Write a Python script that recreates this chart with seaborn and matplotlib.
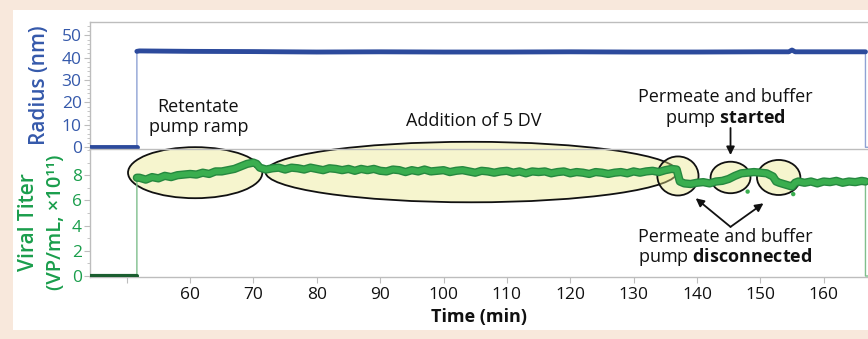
import numpy as np
import pandas as pd
import matplotlib
matplotlib.use("Agg")
import matplotlib.pyplot as plt
from matplotlib.patches import Ellipse, Rectangle
import seaborn as sns

# ---------------- data ----------------
radius_t = [44.0, 51.6, 51.6, 52, 60, 70, 80, 90, 100, 110, 120, 130, 140, 150,
            154.5, 155, 155.5, 160, 166.6, 166.6, 167.5]
radius_v = [0, 0, 42.8, 43.0, 42.8, 42.7, 42.5, 42.6, 42.5, 42.5, 42.6, 42.5,
            42.5, 42.6, 42.6, 43.4, 42.6, 42.6, 42.6, 0, 0]

titer_t = [44.0, 51.6, 51.6, 52, 53, 54, 55, 56, 57, 58, 59, 60, 61, 62, 63, 64, 65,
           66, 67, 68, 69, 70, 70.5, 71, 72, 73, 74, 75, 76, 77, 78, 79, 80, 81, 82,
           83, 84, 85, 86, 87, 88, 89, 90, 91, 92, 93, 94, 95, 96, 97, 98, 99, 100,
           101, 102, 103, 104, 105, 106, 107, 108, 109, 110, 111, 112, 113, 114,
           115, 116, 117, 118, 119, 120, 121, 122, 123, 124, 125, 126, 127, 128,
           129, 130, 131, 132, 133, 134, 135, 136, 136.8, 137.3, 138, 139, 140, 141,
           142, 143, 144, 145, 146, 147, 148, 149, 150, 151, 152, 152.5, 153, 154,
           155, 155.5, 156, 157, 158, 159, 160, 161, 162, 163, 164, 165, 166, 166.6,
           166.6, 167.5]
titer_v = [0, 0, 7.8, 7.8, 7.65, 7.85, 7.75, 7.95, 7.85, 8.0, 8.05, 8.1, 8.05, 8.2, 8.1,
           8.3, 8.3, 8.4, 8.5, 8.7, 8.9, 9.0, 8.9, 8.6, 8.45, 8.55, 8.6, 8.45, 8.6,
           8.55, 8.45, 8.6, 8.5, 8.4, 8.55, 8.5, 8.4, 8.5, 8.35, 8.5, 8.4, 8.5, 8.35,
           8.3, 8.45, 8.4, 8.25, 8.4, 8.3, 8.45, 8.3, 8.35, 8.4, 8.25, 8.35, 8.4, 8.3,
           8.2, 8.35, 8.3, 8.2, 8.3, 8.35, 8.2, 8.3, 8.15, 8.3, 8.25, 8.3, 8.15,
           8.25, 8.3, 8.15, 8.25, 8.2, 8.1, 8.25, 8.2, 8.1, 8.2, 8.25, 8.15, 8.3,
           8.2, 8.3, 8.35, 8.25, 8.4, 8.5, 8.45, 7.5, 7.35, 7.3, 7.4, 7.45, 7.35, 7.5,
           7.55, 7.7, 7.95, 8.15, 8.2, 8.25, 8.2, 8.15, 7.9, 7.5, 7.4, 7.25, 7.1,
           7.4, 7.5, 7.4, 7.5, 7.35, 7.5, 7.45, 7.55, 7.4, 7.5, 7.45, 7.55, 7.5, 0, 0]

outlier_t = [148.0, 155.2]
outlier_v = [6.7, 6.5]

x_ticks = [50, 60, 70, 80, 90, 100, 110, 120, 130, 140, 150, 160]
x_labels = ["", "60", "70", "80", "90", "100", "110", "120", "130", "140", "150", "160"]
radius_ticks = [0, 10, 20, 30, 40, 50]
titer_ticks = [0, 2, 4, 6, 8]

# ---------------- style ----------------
sns.set_theme(style="white")
plt.rcParams["font.family"] = ["Open Sans", "DejaVu Sans"]
plt.rcParams["mathtext.fontset"] = "custom"
plt.rcParams["mathtext.rm"] = "Open Sans"
plt.rcParams["mathtext.bf"] = "Open Sans:bold"
plt.rcParams["mathtext.it"] = "Open Sans:italic"

BLUE = "#2c4a9c"
BLUE_TXT = "#3559ab"
GREEN = "#3aae4f"
GREEN_D = "#26883f"
GREEN_TXT = "#1a9e4c"
GREY = "#bdbdbd"

W, H = 868, 339
fig = plt.figure(figsize=(W / 100, H / 100), dpi=100)
fig.patch.set_facecolor("#f8e8dc")
fig.add_artist(Rectangle((13 / W, 1 - 330 / H), 1, (330 - 10) / H,
                         transform=fig.transFigure, facecolor="white",
                         edgecolor="none", zorder=0))

L = 90 / W
AW = 1 - L
ax_top = fig.add_axes([L, 1 - 148.5 / H, AW, (148.5 - 22) / H])
ax_bot = fig.add_axes([L, 1 - 277 / H, AW, (277 - 149) / H])
for ax in (ax_top, ax_bot):
    ax.set_facecolor("none")
    ax.set_xlim(44.2, 167.0)

rad = pd.DataFrame({"t": radius_t, "v": radius_v})
tit = pd.DataFrame({"t": titer_t, "v": titer_v})

# ---- top: radius ----
sns.lineplot(data=rad, x="t", y="v", ax=ax_top, sort=False, estimator=None,
             color="#8fa2d4", linewidth=1.0, zorder=2)
rad_low = rad[(rad.t <= 51.6) & (rad.v == 0)]
rad_hi = rad[rad.v > 1]
sns.lineplot(data=rad_low, x="t", y="v", ax=ax_top, sort=False, estimator=None,
             color=BLUE, linewidth=3.5, zorder=3)
sns.lineplot(data=rad_hi, x="t", y="v", ax=ax_top, sort=False, estimator=None,
             color=BLUE, linewidth=3.5, zorder=3)
ax_top.set_ylim(-0.54, 55.9)
ax_top.set_yticks(radius_ticks)
ax_top.set_yticks(np.arange(0, 55, 2), minor=True)
ax_top.set_xticks([])
ax_top.set_xlabel("")
ax_top.set_ylabel("")
ax_top.tick_params(axis="y", which="major", colors=GREY, labelcolor=BLUE_TXT,
                   labelsize=12.5, length=4, width=0.8, pad=2, left=True)
ax_top.tick_params(axis="y", which="minor", colors=GREY, length=2, width=0.6, left=True)
for s in ("right", "bottom"):
    ax_top.spines[s].set_visible(False)
for s in ("top", "left"):
    ax_top.spines[s].set_color(GREY)
    ax_top.spines[s].set_linewidth(1.0)

# ---- bottom: titer ----
ellipses = [
    (60.8, 8.2, 21.2, 4.05),
    (104.4, 8.25, 65.0, 4.8),
    (137.0, 7.94, 6.5, 3.1),
    (145.3, 7.82, 6.3, 2.5),
    (152.9, 7.82, 6.85, 2.78),
]
for cx, cy, ew, eh in ellipses:
    ax_bot.add_patch(Ellipse((cx, cy), ew, eh, facecolor=(0.92, 0.91, 0.55, 0.42),
                             edgecolor="#111111", linewidth=1.3, clip_on=False,
                             zorder=2))

sns.lineplot(data=tit, x="t", y="v", ax=ax_bot, sort=False, estimator=None,
             color="#7fbf8c", linewidth=1.0, zorder=3)
tit_low = tit[(tit.t <= 51.6) & (tit.v == 0)]
tit_hi = tit[tit.v > 1]
sns.lineplot(data=tit_low, x="t", y="v", ax=ax_bot, sort=False, estimator=None,
             color="#1b5e30", linewidth=3.0, zorder=4)
sns.lineplot(data=tit_hi, x="t", y="v", ax=ax_bot, sort=False, estimator=None,
             color=GREEN_D, linewidth=6.0, zorder=4)
sns.lineplot(data=tit_hi, x="t", y="v", ax=ax_bot, sort=False, estimator=None,
             color=GREEN, linewidth=4.0, zorder=5)
sns.scatterplot(x=outlier_t, y=outlier_v, ax=ax_bot, color=GREEN, s=10,
                edgecolor="none", zorder=5)

ax_bot.set_ylim(-0.08, 10.08)
ax_bot.set_yticks(titer_ticks)
ax_bot.set_yticks(np.arange(0, 10.1, 1), minor=True)
ax_bot.set_xticks(x_ticks)
ax_bot.set_xticklabels(x_labels)
ax_bot.set_ylabel("")
ax_bot.set_xlabel("Time (min)", fontsize=13, fontweight="bold", color="#111111",
                  labelpad=4)
ax_bot.tick_params(axis="y", which="major", colors=GREY, labelcolor=GREEN_TXT,
                   labelsize=12.5, length=4, width=0.8, pad=2, left=True)
ax_bot.tick_params(axis="y", which="minor", colors=GREY, length=2, width=0.6, left=True)
ax_bot.tick_params(axis="x", which="major", colors=GREY, labelcolor="#111111",
                   labelsize=12.5, length=4, width=0.8, pad=3, bottom=True)
ax_bot.spines["right"].set_visible(False)
for s in ("top", "left", "bottom"):
    ax_bot.spines[s].set_color(GREY)
    ax_bot.spines[s].set_linewidth(1.0)

# ---- axis titles ----
fig.text(40 / W, 1 - 85 / H, "Radius (nm)", rotation=90, ha="center", va="center",
         fontsize=15, fontweight="semibold", color=BLUE_TXT)
fig.text(28 / W, 1 - 222 / H, "Viral Titer", rotation=90, ha="center", va="center",
         fontsize=15, fontweight="semibold", color=GREEN_TXT)
fig.text(56 / W, 1 - 222 / H, "(VP/mL, ×10¹¹)", rotation=90, ha="center",
         va="center", fontsize=14.5, fontweight="semibold", color=GREEN_TXT)

# ---- annotations ----
ax_top.text(61.3, 13.5, "Retentate\npump ramp", ha="center", va="center",
            fontsize=13, color="#111111", linespacing=1.1)
ax_top.text(104.7, 11.9, "Addition of 5 DV", ha="center", va="center",
            fontsize=13, color="#111111")
ax_top.text(144.5, 17.3, "Permeate and buffer\npump $\\mathbf{started}$",
            ha="center", va="center", fontsize=13, color="#111111",
            linespacing=1.1)
ax_bot.text(144.5, 2.25, "Permeate and buffer\npump $\\mathbf{disconnected}$",
            ha="center", va="center", fontsize=13, color="#111111",
            linespacing=1.0)

arrow = dict(arrowstyle="-|>", color="#111111", lw=1.3, mutation_scale=12,
             shrinkA=0, shrinkB=0)
ax_bot.annotate("", xy=(145.3, 9.6), xytext=(145.3, 11.75), xycoords="data",
                arrowprops=arrow, annotation_clip=False)
ax_bot.annotate("", xy=(139.8, 6.17), xytext=(145.3, 3.9), arrowprops=arrow,
                annotation_clip=False)
ax_bot.annotate("", xy=(150.5, 5.77), xytext=(145.3, 3.9), arrowprops=arrow,
                annotation_clip=False)

fig.savefig("out.png", dpi=100, facecolor=fig.get_facecolor())
